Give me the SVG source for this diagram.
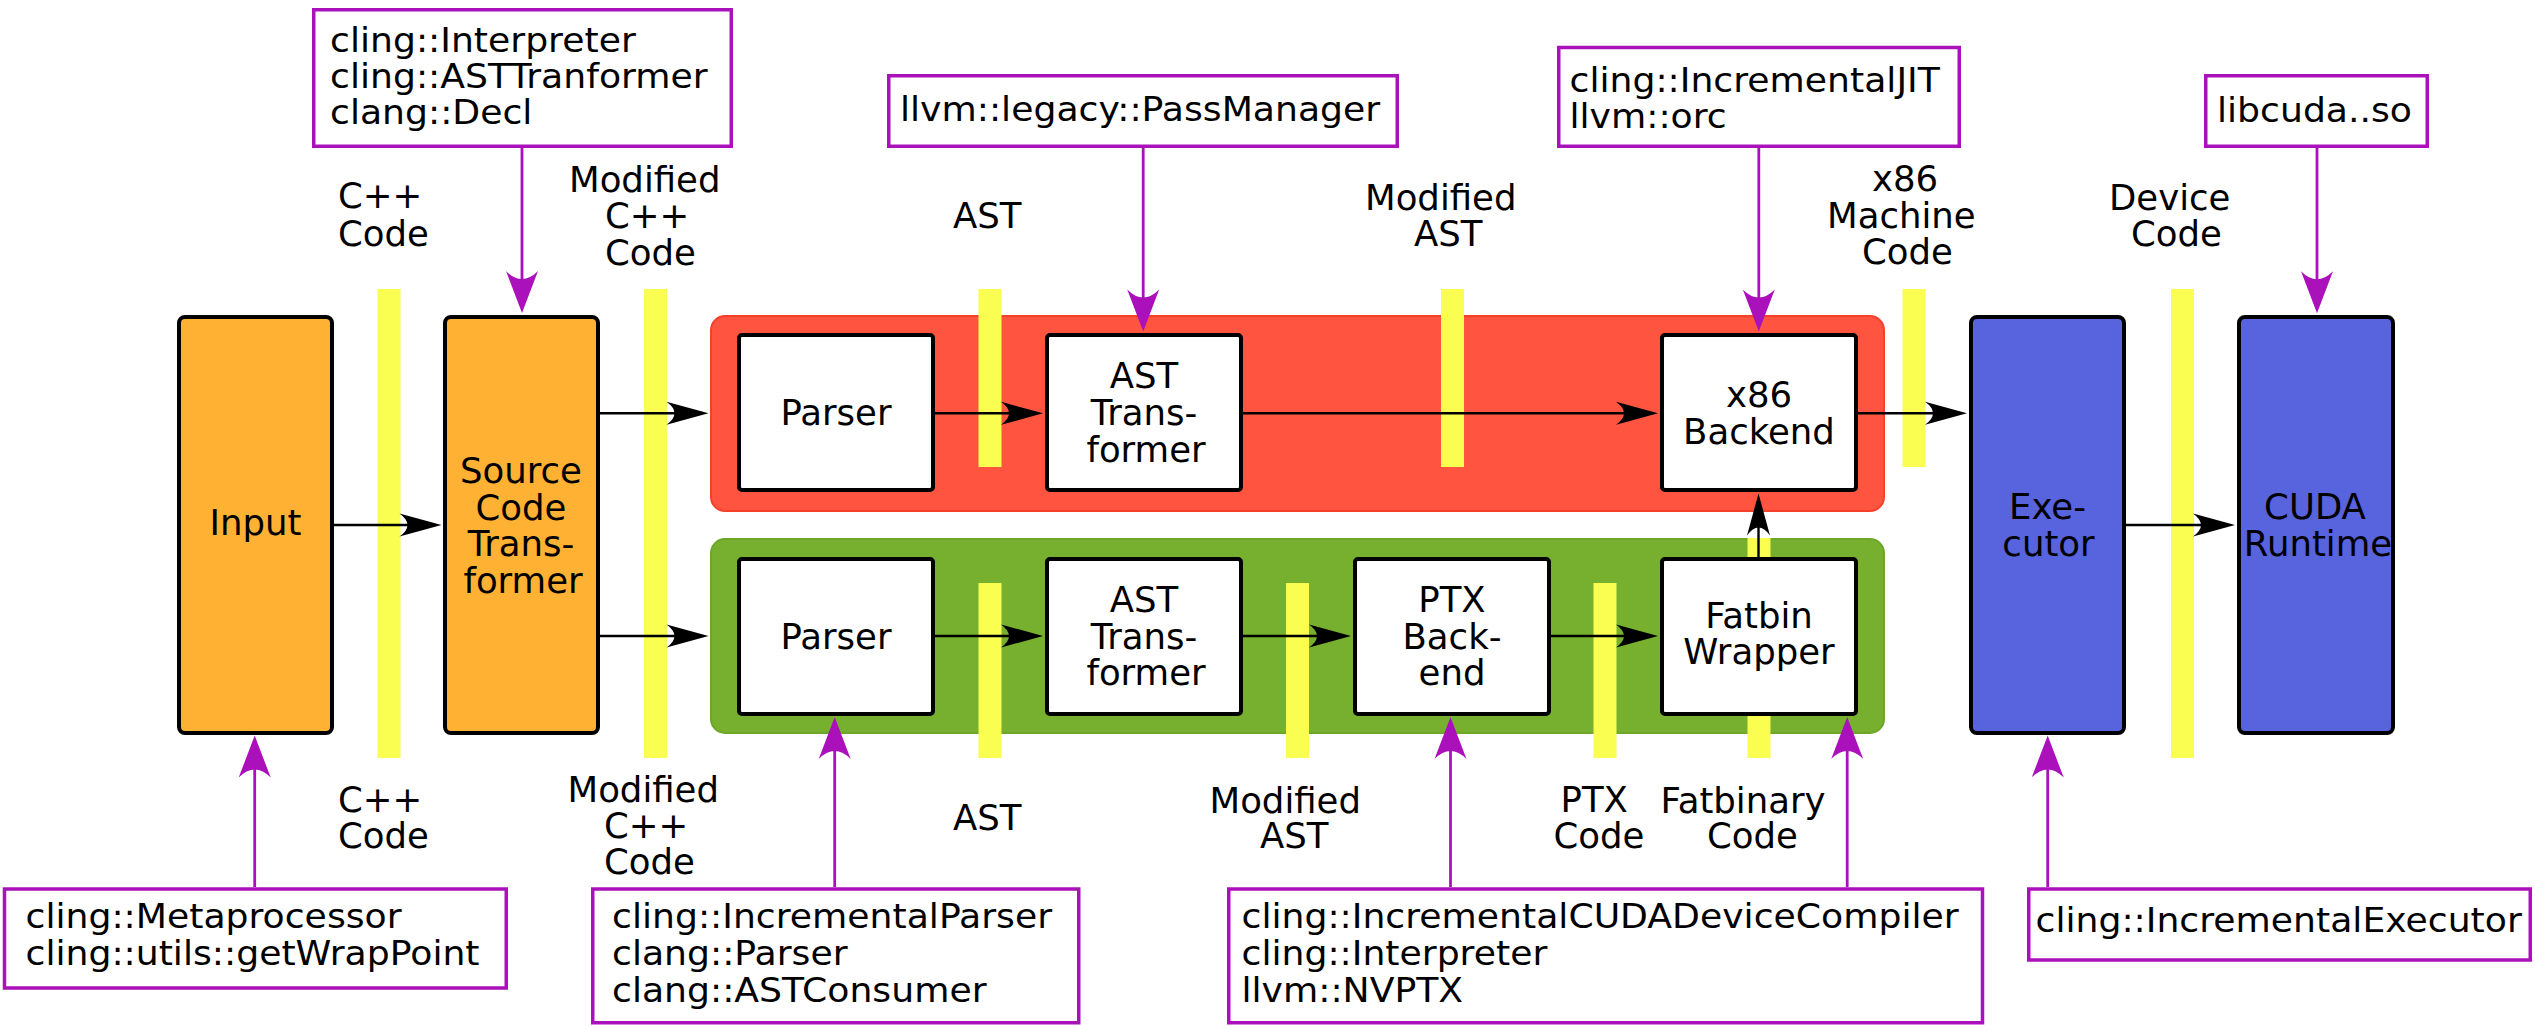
<svg xmlns="http://www.w3.org/2000/svg" width="2535" height="1026" viewBox="0 0 2535 1026">
  <defs>
    <!-- black concave arrowhead for the data flow -->
    <marker id="head-flow" markerUnits="userSpaceOnUse" orient="auto" overflow="visible" markerWidth="1" markerHeight="1" refX="0" refY="0">
      <path d="M8,0 L-34,-11.5 Q-18,0 -34,11.5 Z" fill="#000"/>
    </marker>
    <!-- purple arrowhead for the class annotations -->
    <marker id="head-api" markerUnits="userSpaceOnUse" orient="auto" overflow="visible" markerWidth="1" markerHeight="1" refX="0" refY="0">
      <path d="M8,0 L-34,-16 Q-18,0 -34,16 Z" fill="#aa11bb"/>
    </marker>
  </defs>
  <style>
    .stage { stroke: #000; stroke-width: 4; }
    .host { fill: #feb133; }
    .rt { fill: #5863de; }
    .step { fill: #fff; stroke: #000; stroke-width: 4; }
    .bar { fill: #fafe50; }
    .api { fill: #fff; stroke: #aa11bb; stroke-width: 3.5; }
    .flow { fill: none; stroke: #000; stroke-width: 2.4; marker-end: url(#head-flow); }
    .link { fill: none; stroke: #aa11bb; stroke-width: 2.8; marker-end: url(#head-api); }
    text { font-family: "DejaVu Sans", "Liberation Sans", sans-serif; fill: #000; }
    .t { font-size: 35.5px; }
    .c { font-size: 35.5px; text-anchor: middle; }
    .cls { font-size: 33.5px; }
  </style>

  <rect width="2535" height="1026" fill="#fff"/>

  <!-- pipeline backgrounds -->
  <g id="host-pipeline">
    <rect x="711" y="316" width="1173" height="195" rx="14" fill="#ff5540" stroke="#f5402a" stroke-width="2"/>
  </g>
  <g id="device-pipeline">
    <rect x="711" y="539" width="1173" height="194" rx="14" fill="#76b02e" stroke="#6ea62a" stroke-width="2"/>
  </g>

  <!-- data markers between stages -->
  <g id="data-bars">
    <rect class="bar" x="377.5" y="289" width="23" height="469"/>
    <rect class="bar" x="644" y="289" width="23" height="469"/>
    <rect class="bar" x="978.5" y="289" width="23" height="178"/>
    <rect class="bar" x="1441" y="289" width="23" height="178"/>
    <rect class="bar" x="1902.5" y="289" width="23" height="178"/>
    <rect class="bar" x="2171" y="289" width="23" height="469"/>
    <rect class="bar" x="978.5" y="583" width="23" height="175"/>
    <rect class="bar" x="1286" y="583" width="23" height="175"/>
    <rect class="bar" x="1593.5" y="583" width="23" height="175"/>
    <rect class="bar" x="1747.5" y="538" width="23" height="220"/>
  </g>

  <!-- data labels above the markers -->
  <g id="labels-top">
    <text class="t"><tspan x="338" y="208">C++</tspan><tspan x="338" y="245.5">Code</tspan></text>
    <text class="t"><tspan x="569" y="191.5">Modified</tspan><tspan x="605" y="228.3">C++</tspan><tspan x="605" y="265">Code</tspan></text>
    <text class="t" x="953" y="228.3">AST</text>
    <text class="t"><tspan x="1365" y="210">Modified</tspan><tspan x="1414" y="245.7">AST</tspan></text>
    <text class="t"><tspan x="1872" y="190.7">x86</tspan><tspan x="1827" y="227.5">Machine</tspan><tspan x="1862" y="264">Code</tspan></text>
    <text class="t"><tspan x="2109" y="210">Device</tspan><tspan x="2131" y="245.7">Code</tspan></text>
  </g>

  <!-- data labels below the markers -->
  <g id="labels-bottom">
    <text class="t"><tspan x="338" y="811.7">C++</tspan><tspan x="338" y="848.3">Code</tspan></text>
    <text class="t"><tspan x="567.5" y="801.7">Modified</tspan><tspan x="604" y="837.5">C++</tspan><tspan x="604" y="873.5">Code</tspan></text>
    <text class="t" x="953" y="830">AST</text>
    <text class="t"><tspan x="1209.5" y="813.3">Modified</tspan><tspan x="1260" y="848.3">AST</tspan></text>
    <text class="t"><tspan x="1560.5" y="811.7">PTX</tspan><tspan x="1553.5" y="848.3">Code</tspan></text>
    <text class="t"><tspan x="1660.5" y="813.3">Fatbinary</tspan><tspan x="1707" y="848.3">Code</tspan></text>
  </g>

  <!-- stages -->
  <g id="input">
    <rect class="stage host" x="179" y="317" width="153" height="416" rx="6"/>
    <text class="c" x="255.5" y="535">Input</text>
  </g>
  <g id="source-transformer">
    <rect class="stage host" x="445" y="317" width="153" height="416" rx="6"/>
    <text class="c"><tspan x="521" y="483.3">Source</tspan><tspan x="521" y="519.5">Code</tspan><tspan x="521" y="556">Trans-</tspan><tspan x="523" y="592.7">former</tspan></text>
  </g>
  <g id="host-parser">
    <rect class="step" x="739" y="335" width="194" height="155" rx="3"/>
    <text class="c" x="836" y="425">Parser</text>
  </g>
  <g id="host-ast-transformer">
    <rect class="step" x="1047" y="335" width="194" height="155" rx="3"/>
    <text class="c"><tspan x="1144" y="388.3">AST</tspan><tspan x="1144" y="425">Trans-</tspan><tspan x="1146" y="461.7">former</tspan></text>
  </g>
  <g id="x86-backend">
    <rect class="step" x="1662" y="335" width="194" height="155" rx="3"/>
    <text class="c"><tspan x="1759" y="407.3">x86</tspan><tspan x="1759" y="444">Backend</tspan></text>
  </g>
  <g id="device-parser">
    <rect class="step" x="739" y="559" width="194" height="155" rx="3"/>
    <text class="c" x="836" y="649">Parser</text>
  </g>
  <g id="device-ast-transformer">
    <rect class="step" x="1047" y="559" width="194" height="155" rx="3"/>
    <text class="c"><tspan x="1144" y="612">AST</tspan><tspan x="1144" y="648.5">Trans-</tspan><tspan x="1146" y="685">former</tspan></text>
  </g>
  <g id="ptx-backend">
    <rect class="step" x="1355" y="559" width="194" height="155" rx="3"/>
    <text class="c"><tspan x="1452" y="612">PTX</tspan><tspan x="1452" y="648.5">Back-</tspan><tspan x="1452" y="685">end</tspan></text>
  </g>
  <g id="fatbin-wrapper">
    <rect class="step" x="1662" y="559" width="194" height="155" rx="3"/>
    <text class="c"><tspan x="1759" y="628.3">Fatbin</tspan><tspan x="1759" y="664">Wrapper</tspan></text>
  </g>
  <g id="executor">
    <rect class="stage rt" x="1971" y="317" width="153" height="416" rx="6"/>
    <text class="c"><tspan x="2047.5" y="519">Exe-</tspan><tspan x="2048.5" y="555.5">cutor</tspan></text>
  </g>
  <g id="cuda-runtime">
    <rect class="stage rt" x="2239" y="317" width="154" height="416" rx="6"/>
    <text class="c"><tspan x="2315" y="519">CUDA</tspan><tspan x="2318" y="555.5">Runtime</tspan></text>
  </g>

  <!-- implementing classes -->
  <g id="api-interpreter">
    <rect class="api" x="313.75" y="9.75" width="417.5" height="136.5"/>
    <text class="cls" transform="matrix(1.08 0 0 1 330 0)"><tspan x="0" y="51.7">cling::Interpreter</tspan><tspan x="0" y="88">cling::ASTTranformer</tspan><tspan x="0" y="124.3">clang::Decl</tspan></text>
  </g>
  <g id="api-passmanager">
    <rect class="api" x="888.75" y="75.75" width="508.5" height="70.5"/>
    <text class="cls" transform="matrix(1.08 0 0 1 900 0)" x="0" y="121">llvm::legacy::PassManager</text>
  </g>
  <g id="api-jit">
    <rect class="api" x="1558.75" y="47.5" width="400.5" height="98.75"/>
    <text class="cls" transform="matrix(1.08 0 0 1 1569.5 0)"><tspan x="0" y="91.7">cling::IncrementalJIT</tspan><tspan x="0" y="128.3">llvm::orc</tspan></text>
  </g>
  <g id="api-libcuda">
    <rect class="api" x="2205.75" y="75.75" width="221.5" height="70.5"/>
    <text class="cls" transform="matrix(1.08 0 0 1 2217 0)" x="0" y="122">libcuda..so</text>
  </g>
  <g id="api-metaprocessor">
    <rect class="api" x="4.5" y="889" width="501.75" height="99"/>
    <text class="cls" transform="matrix(1.08 0 0 1 25.5 0)"><tspan x="0" y="928.3">cling::Metaprocessor</tspan><tspan x="0" y="965">cling::utils::getWrapPoint</tspan></text>
  </g>
  <g id="api-parser">
    <rect class="api" x="592.75" y="889" width="486" height="133.75"/>
    <text class="cls" transform="matrix(1.08 0 0 1 612 0)"><tspan x="0" y="928.3">cling::IncrementalParser</tspan><tspan x="0" y="965">clang::Parser</tspan><tspan x="0" y="1001.7">clang::ASTConsumer</tspan></text>
  </g>
  <g id="api-device-compiler">
    <rect class="api" x="1228.75" y="889" width="753.75" height="133.75"/>
    <text class="cls" transform="matrix(1.08 0 0 1 1241.5 0)"><tspan x="0" y="928.3">cling::IncrementalCUDADeviceCompiler</tspan><tspan x="0" y="965">cling::Interpreter</tspan><tspan x="0" y="1001.7">llvm::NVPTX</tspan></text>
  </g>
  <g id="api-executor">
    <rect class="api" x="2028.75" y="889" width="501.5" height="71"/>
    <text class="cls" transform="matrix(1.08 0 0 1 2035.5 0)" x="0" y="931.7">cling::IncrementalExecutor</text>
  </g>

  <!-- connectors -->
  <g id="connectors">
    <path class="flow" d="M334,525 H433.5"/>
    <path class="flow" d="M600,413.3 H700.5"/>
    <path class="flow" d="M600,636 H700.5"/>
    <path class="flow" d="M933,413.3 H1035"/>
    <path class="flow" d="M1241,413.3 H1650"/>
    <path class="flow" d="M1856,413.3 H1959"/>
    <path class="flow" d="M933,636 H1035"/>
    <path class="flow" d="M1241,636 H1343"/>
    <path class="flow" d="M1549,636 H1650"/>
    <path class="flow" d="M1758.5,557 V501.5"/>
    <path class="flow" d="M2124,525 H2227"/>

    <path class="link" d="M522,148 V305"/>
    <path class="link" d="M1143.2,148 V323.5"/>
    <path class="link" d="M1758.8,148 V323.5"/>
    <path class="link" d="M2317,148 V305.3"/>
    <path class="link" d="M254.7,887 V743.5"/>
    <path class="link" d="M834.7,887 V725"/>
    <path class="link" d="M1450.5,887 V725"/>
    <path class="link" d="M1847.2,887 V725"/>
    <path class="link" d="M2047.7,887 V743.5"/>
  </g>
</svg>
